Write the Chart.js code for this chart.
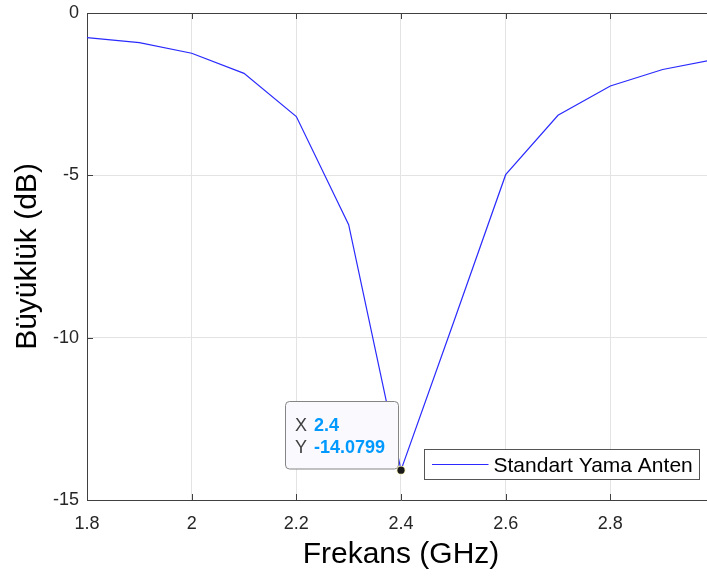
<!DOCTYPE html>
<html>
<head>
<meta charset="utf-8">
<script src="https://cdn.jsdelivr.net/npm/chart.js@4/dist/chart.umd.min.js"></script>
<style>
  html, body { margin: 0; padding: 0; overflow: hidden; background: #fff; }
  #wrap { width: 707px; height: 581px; overflow: hidden; }
  canvas { display: block; }
</style>
</head>
<body>
<div id="wrap"><canvas id="c" width="715" height="581" style="width:715px;height:581px"></canvas></div>
<script>
// ---- data ----
const freqGHz = [1.8, 1.9, 2.0, 2.1, 2.2, 2.3, 2.4, 2.5, 2.6, 2.7, 2.8, 2.9, 3.0];
const magnitudeDb = [-0.76, -0.91, -1.24, -1.86, -3.19, -6.52, -14.0799, -9.55, -4.98, -3.15, -2.25, -1.74, -1.43];
const seriesLabel = 'Standart Yama Anten';
const xTicks = [1.8, 2, 2.2, 2.4, 2.6, 2.8];
const yTicks = [-15, -10, -5, 0];
const xTitle = 'Frekans (GHz)';
const yTitle = 'Büyüklük (dB)';
const tipX = 2.4;
const tipY = -14.0799;

const FONT = '"Liberation Sans", Arial, sans-serif';
const AXIS = '#404040';

const overlay = {
  id: 'overlay',
  afterDatasetsDraw(chart) {
    const ctx = chart.ctx;
    const a = chart.chartArea;
    const xs = chart.scales.x, ys = chart.scales.y;
    ctx.save();
    // top border
    ctx.strokeStyle = AXIS; ctx.lineWidth = 1;
    ctx.beginPath();
    ctx.moveTo(a.left, Math.round(a.top) + 0.5);
    ctx.lineTo(a.right, Math.round(a.top) + 0.5);
    ctx.stroke();
    // inward tick marks
    ctx.beginPath();
    xTicks.forEach(v => {
      const px = Math.round(xs.getPixelForValue(v)) + 0.5;
      ctx.moveTo(px, a.bottom); ctx.lineTo(px, a.bottom - 6);
      ctx.moveTo(px, a.top); ctx.lineTo(px, a.top + 6);
    });
    yTicks.forEach(v => {
      const py = Math.round(ys.getPixelForValue(v)) + 0.5;
      ctx.moveTo(a.left, py); ctx.lineTo(a.left + 6, py);
    });
    ctx.stroke();

    // legend box
    const lw = 275, lh = 30;
    const lx = Math.round(a.right - 16 - lw) + 0.5;
    const ly = Math.round(a.bottom - 21 - lh) + 0.5;
    ctx.fillStyle = '#ffffff';
    ctx.fillRect(lx, ly, lw, lh);
    ctx.strokeStyle = '#555555';
    ctx.lineWidth = 1;
    ctx.strokeRect(lx, ly, lw, lh);
    const ds = chart.data.datasets[0];
    ctx.strokeStyle = ds.borderColor;
    ctx.lineWidth = ds.borderWidth;
    ctx.beginPath();
    ctx.moveTo(lx + 7.5, ly + lh / 2);
    ctx.lineTo(lx + 64, ly + lh / 2);
    ctx.stroke();
    ctx.fillStyle = '#000';
    ctx.font = '21px ' + FONT;
    ctx.textBaseline = 'alphabetic';
    ctx.textAlign = 'left';
    ctx.fillText(ds.label, lx + 69, ly + lh - 7.5);

    // datatip
    const px = xs.getPixelForValue(tipX);
    const py = ys.getPixelForValue(tipY);
    const bw = 113, bh = 67.5;
    const bx = Math.round(px - 2.5 - bw) + 0.5;
    const by = Math.round(py - 2 - bh) + 0.5;
    ctx.beginPath();
    ctx.roundRect(bx, by, bw, bh, 4);
    ctx.fillStyle = '#f9f9fe';
    ctx.fill();
    ctx.strokeStyle = '#858585';
    ctx.lineWidth = 1;
    ctx.stroke();
    ctx.font = '18px ' + FONT;
    ctx.fillStyle = '#404040';
    ctx.fillText('X', bx + 9.5, by + 29);
    ctx.fillText('Y', bx + 9.5, by + 51);
    ctx.font = 'bold 18px ' + FONT;
    ctx.fillStyle = 'rgb(0,153,255)';
    ctx.fillText(String(tipX), bx + 28.5, by + 29);
    ctx.fillText(String(tipY), bx + 28.5, by + 51);
    // marker
    ctx.beginPath();
    ctx.arc(px, py, 4.5, 0, Math.PI * 2);
    ctx.fillStyle = '#f5f0b0';
    ctx.fill();
    ctx.beginPath();
    ctx.arc(px, py, 3.6, 0, Math.PI * 2);
    ctx.fillStyle = '#1a1a1a';
    ctx.fill();
    ctx.restore();
  }
};

new Chart(document.getElementById('c'), {
  type: 'line',
  data: {
    datasets: [{
      label: seriesLabel,
      data: freqGHz.map((f, i) => ({ x: f, y: magnitudeDb[i] })),
      borderColor: '#2a2aff',
      borderWidth: 1.2,
      pointRadius: 0,
      tension: 0,
      fill: false
    }]
  },
  options: {
    responsive: false,
    animation: false,
    devicePixelRatio: 1,
    layout: { padding: { top: 13, right: 0, bottom: 0, left: 0 } },
    plugins: { legend: { display: false }, tooltip: { enabled: false } },
    scales: {
      x: {
        type: 'linear',
        min: 1.8, max: 3.0,
        afterBuildTicks: s => { s.ticks = xTicks.map(v => ({ value: v })); },
        afterFit: s => { s.height = 81; s.paddingLeft = 0; s.paddingRight = 0; },
        grid: { color: '#e3e3e3', drawTicks: false, lineWidth: 1 },
        border: { display: true, color: AXIS, width: 1 },
        ticks: {
          padding: 13,
          color: '#262626',
          font: { family: FONT, size: 18 },
          maxRotation: 0,
          autoSkip: false,
          callback: v => String(Number(v.toFixed(2)))
        },
        title: {
          display: true, text: xTitle, color: '#000',
          font: { family: FONT, size: 30 },
          padding: { top: 0, bottom: 8 }
        }
      },
      y: {
        type: 'linear',
        min: -15, max: 0,
        afterBuildTicks: s => { s.ticks = yTicks.map(v => ({ value: v })); },
        afterFit: s => { s.width = 87; s.paddingTop = 0; s.paddingBottom = 0; },
        grid: { color: '#e3e3e3', drawTicks: false, lineWidth: 1 },
        border: { display: true, color: AXIS, width: 1 },
        ticks: {
          padding: 8,
          color: '#262626',
          font: { family: FONT, size: 18 },
          autoSkip: false,
          callback: v => String(v)
        },
        title: {
          display: true, text: yTitle, color: '#000',
          font: { family: FONT, size: 30 },
          padding: { top: 10, bottom: 0 }
        }
      }
    }
  },
  plugins: [overlay]
});
</script>
</body>
</html>
